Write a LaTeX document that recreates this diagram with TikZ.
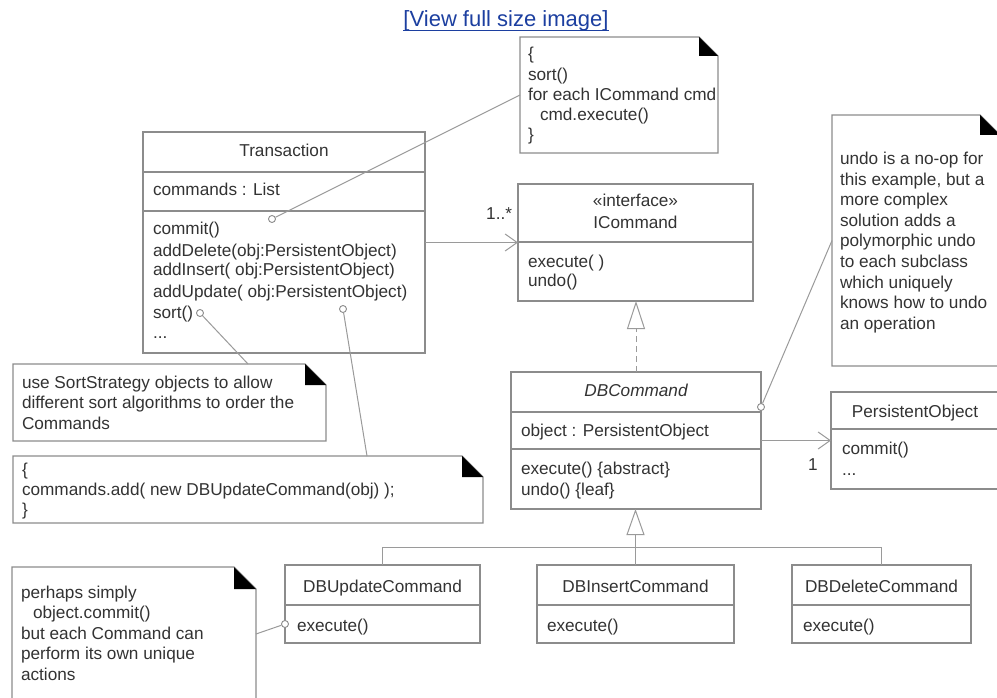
\documentclass[tikz,border=0pt]{standalone}
\usepackage{fontspec}
\setmainfont{Liberation Sans}
\usetikzlibrary{arrows.meta}
\definecolor{ln}{HTML}{8C8C8C}
\definecolor{cn}{HTML}{9A9A9A}
\definecolor{tx}{HTML}{333333}
\definecolor{lk}{HTML}{1C3FA0}
\newcommand\dfont{\fontsize{17.2}{20.5}\selectfont}
\newcommand\foldnote[2]{%
  \draw[notel] (#1.north west) -- ([xshift=-#2pt]#1.north east) -- ([yshift=-#2pt]#1.north east) -- (#1.south east) -- (#1.south west) -- cycle;
  \fill[black] ([xshift=-#2pt]#1.north east) -- ([xshift=-#2pt,yshift=-#2pt]#1.north east) -- ([yshift=-#2pt]#1.north east) -- cycle;}
\begin{document}
\begin{tikzpicture}[x=1pt,y=-1pt,
  box/.style={draw=ln, line width=1.2pt, fill=white, inner sep=0, outer sep=0, anchor=north west},
  area/.style={inner sep=0, outer sep=0, anchor=north west},
  notel/.style={draw=ln, line width=1.2pt, fill=white},
  sepl/.style={draw=ln, line width=1.2pt},
  con/.style={draw=cn, line width=1pt},
  txt/.style={anchor=base west, inner sep=0, outer sep=0, text=tx, font=\dfont},
  ctxt/.style={txt, anchor=base},
  hook/.style={circle, draw=ln, fill=white, line width=0.9pt, inner sep=0, minimum size=7pt},
  assoc/.style={con, -{Straight Barb[length=12pt, width=17pt]}},
  realize/.style={con, dash pattern=on 6pt off 4pt, -{Triangle[open, length=28pt, width=18pt, fill=white]}},
  gener/.style={con, -{Triangle[open, length=26pt, width=18pt, fill=white]}}
]
\useasboundingbox (0,0) rectangle (997,698);
\clip (0,0) rectangle (997,698);
\fill[white] (0,0) rectangle (997,698);

% link
\node[anchor=base, inner sep=0, text=lk, font=\fontsize{22}{26}\selectfont] (link) at (506,27) {[View full size image]};
\draw[lk, line width=1.1pt] ([yshift=-3.5pt]link.base west) -- ([yshift=-3.5pt]link.base east);

% note areas
\node[area, minimum width=198pt, minimum height=116pt] (topnote) at (520,37) {};
\node[area, minimum width=168pt, minimum height=251pt] (rnote) at (832,115) {};
\node[area, minimum width=313pt, minimum height=77pt] (sortnote) at (13,364) {};
\node[area, minimum width=470pt, minimum height=67pt] (updnote) at (13,456) {};
\node[area, minimum width=244pt, minimum height=134pt] (pnote) at (12,567) {};
\foldnote{topnote}{19}
\foldnote{rnote}{20}
\foldnote{sortnote}{21}
\foldnote{updnote}{21}
\foldnote{pnote}{22}

% class boxes
\node[box, minimum width=282pt, minimum height=221pt] (trans) at (143,132) {};
\draw[sepl] (143,172) -- (425,172);
\draw[sepl] (143,211) -- (425,211);
\node[box, minimum width=235pt, minimum height=117pt] (icmd) at (518,184) {};
\draw[sepl] (518,242) -- (753,242);
\node[box, minimum width=250pt, minimum height=137pt] (dbcmd) at (511,372) {};
\draw[sepl] (511,412) -- (761,412);
\draw[sepl] (511,449) -- (761,449);
\node[box, minimum width=170pt, minimum height=97pt] (pobj) at (831,392) {};
\draw[sepl] (831,429) -- (1001,429);
\node[box, minimum width=195pt, minimum height=78pt] (dbupd) at (285,565) {};
\draw[sepl] (285,605) -- (480,605);
\node[box, minimum width=197pt, minimum height=78pt] (dbins) at (537,565) {};
\draw[sepl] (537,605) -- (734,605);
\node[box, minimum width=179pt, minimum height=78pt] (dbdel) at (792,565) {};
\draw[sepl] (792,605) -- (971,605);

% texts: Transaction
\node[ctxt] (tn) at (284,157) {Transaction};
\node[txt] (ta) at (153,196) {commands : List};
\node[txt] (tm1) at (153,235) {commit()};
\node[txt] (tm2) at (153,256) {addDelete(obj:PersistentObject)};
\node[txt] (tm3) at (153,276) {addInsert( obj:PersistentObject)};
\node[txt] (tm4) at (153,297) {addUpdate( obj:PersistentObject)};
\node[txt] (tm5) at (153,318) {sort()};
\node[txt] (tm6) at (153,338) {...};

% ICommand
\node[ctxt] (is) at (635.5,207) {«interface»};
\node[ctxt] (in) at (635.5,229) {ICommand};
\node[txt] (im1) at (528,267) {execute( )};
\node[txt] (im2) at (528,287) {undo()};

% DBCommand
\node[ctxt] (dn) at (636,396) {\itshape DBCommand};
\node[txt] (da) at (521,436) {object : PersistentObject};
\node[txt] (dm1) at (521,474) {execute() \{abstract\}};
\node[txt] (dm2) at (521,495) {undo() \{leaf\}};

% PersistentObject
\node[ctxt] (pn) at (915,417) {PersistentObject};
\node[txt] (pm1) at (842,454) {commit()};
\node[txt] (pm2) at (842,475) {...};

% subclasses
\node[ctxt] (un) at (382.5,592) {DBUpdateCommand};
\node[txt] (um) at (297,631) {execute()};
\node[ctxt] (inn) at (635.5,592) {DBInsertCommand};
\node[txt] (inm) at (547,631) {execute()};
\node[ctxt] (den) at (881.5,592) {DBDeleteCommand};
\node[txt] (dem) at (803,631) {execute()};

% top note text
\node[txt] (n1a) at (528,60) {\{};
\node[txt] (n1b) at (528,80.3) {sort()};
\node[txt] (n1c) at (528,100.6) {for each ICommand cmd};
\node[txt] (n1d) at (540,120.9) {cmd.execute()};
\node[txt] (n1e) at (528,141) {\}};

% right note text
\node[txt] (n2a) at (840,165) {undo is a no-op for};
\node[txt] (n2b) at (840,185.5) {this example, but a};
\node[txt] (n2c) at (840,206) {more complex};
\node[txt] (n2d) at (840,226.5) {solution adds a};
\node[txt] (n2e) at (840,247) {polymorphic undo};
\node[txt] (n2f) at (840,267.5) {to each subclass};
\node[txt] (n2g) at (840,288) {which uniquely};
\node[txt] (n2h) at (840,308.5) {knows how to undo};
\node[txt] (n2i) at (840,329) {an operation};

% sort note text
\node[txt] (n3a) at (22,388) {use SortStrategy objects to allow};
\node[txt] (n3b) at (22,408.5) {different sort algorithms to order the};
\node[txt] (n3c) at (22,429) {Commands};

% update note text
\node[txt] (n4a) at (22,475) {\{};
\node[txt] (n4b) at (22,495) {commands.add( new DBUpdateCommand(obj) );};
\node[txt] (n4c) at (22,515) {\}};

% perhaps note text
\node[txt] (n5a) at (21,598) {perhaps simply};
\node[txt] (n5b) at (33,618.5) {object.commit()};
\node[txt] (n5c) at (21,639) {but each Command can};
\node[txt] (n5d) at (21,659.5) {perform its own unique};
\node[txt] (n5e) at (21,680) {actions};

% multiplicities
\node[txt, anchor=base east] (m1) at (512,219) {1..*};
\node[txt, anchor=base] (m2) at (813,470) {1};

% relationships
\draw[assoc] (trans.east |- icmd.west) -- (icmd.west);
\draw[assoc] (dbcmd.east) -- (pobj.west);
\draw[realize] (dbcmd.north) -- (dbcmd.north |- icmd.south);
\draw[gener] (dbins.north) -- (dbins.north |- dbcmd.south);
\draw[con] (dbupd.north) -- ++(0,-18) -| (dbdel.north);

% note anchors
\node[hook] (h1) at (272,219) {};
\node[hook] (h2) at (200,313) {};
\node[hook] (h3) at (343,309) {};
\node[hook] (h4) at (761,407) {};
\node[hook] (h5) at (285,624) {};
\draw[con] (h1) -- (topnote.west);
\draw[con] (h2) -- ([xshift=235pt]sortnote.north west);
\draw[con] (h3) -- ([xshift=354pt]updnote.north west);
\draw[con] (h4) -- (rnote.west);
\draw[con] (h5) -- (pnote.east);
\end{tikzpicture}
\end{document}
